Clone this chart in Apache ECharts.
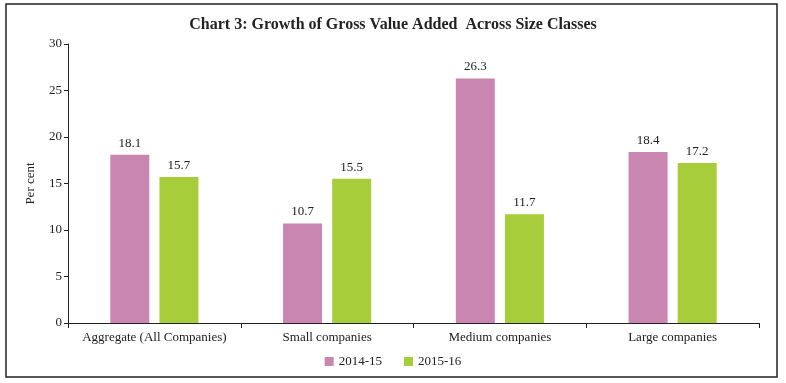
<!DOCTYPE html>
<html><head><meta charset="utf-8">
<script src="https://cdn.jsdelivr.net/npm/echarts@6/dist/echarts.min.js"></script>
<style>html,body{margin:0;padding:0;background:#fff}#c{width:786px;height:383px}</style>
</head><body><div id="c"></div>
<script>
const categories = ['Aggregate (All Companies)', 'Small companies', 'Medium companies', 'Large companies'];
const seriesNames = ['2014-15', '2015-16'];
const values2014 = [18.1, 10.7, 26.3, 18.4];
const values2015 = [15.7, 15.5, 11.7, 17.2];
const yTicks = [0, 5, 10, 15, 20, 25, 30];

const font = 'Liberation Serif';
const chart = echarts.init(document.getElementById('c'), null, {renderer: 'canvas'});
const labelCfg = {show: true, position: 'top', distance: 5, color: '#222', fontFamily: font, fontSize: 13, formatter: p => p.value.toFixed(1)};
chart.setOption({
  animation: false,
  graphic: [{type: 'rect', shape: {x: 6, y: 4, width: 771, height: 373}, style: {fill: 'none', stroke: '#222', lineWidth: 1.5}}],
  title: {text: 'Chart 3: Growth of Gross Value Added  Across Size Classes', left: 'center', top: 12,
    textStyle: {fontFamily: font, fontWeight: 'bold', fontSize: 16, color: '#222'}},
  legend: {data: seriesNames, bottom: 10, left: 'center', itemWidth: 9, itemHeight: 9, itemGap: 22, icon: 'rect',
    textStyle: {fontFamily: font, fontSize: 13, color: '#222'}},
  grid: {left: 68, right: 27, top: 44, bottom: 60},
  xAxis: {type: 'category', data: categories,
    axisLine: {lineStyle: {color: '#222'}}, axisTick: {show: true, length: 5, lineStyle: {color: '#222'}},
    axisLabel: {interval: 0, fontFamily: font, fontSize: 13, color: '#222', margin: 8}},
  yAxis: {type: 'value', min: yTicks[0], max: yTicks[yTicks.length - 1], interval: 5,
    name: 'Per cent', nameLocation: 'middle', nameGap: 31, nameRotate: 90,
    nameTextStyle: {fontFamily: font, fontSize: 13, color: '#222'},
    axisLine: {show: true, lineStyle: {color: '#222'}}, axisTick: {show: true, length: 4, lineStyle: {color: '#222'}},
    splitLine: {show: false},
    axisLabel: {fontFamily: font, fontSize: 13, color: '#222', margin: 6}},
  series: [
    {name: seriesNames[0], type: 'bar', data: values2014, barWidth: 39, barGap: '26%', itemStyle: {color: '#c886b0'}, label: labelCfg},
    {name: seriesNames[1], type: 'bar', data: values2015, barWidth: 39, barGap: '26%', itemStyle: {color: '#a8cd3a'}, label: labelCfg}
  ]
});
</script></body></html>
